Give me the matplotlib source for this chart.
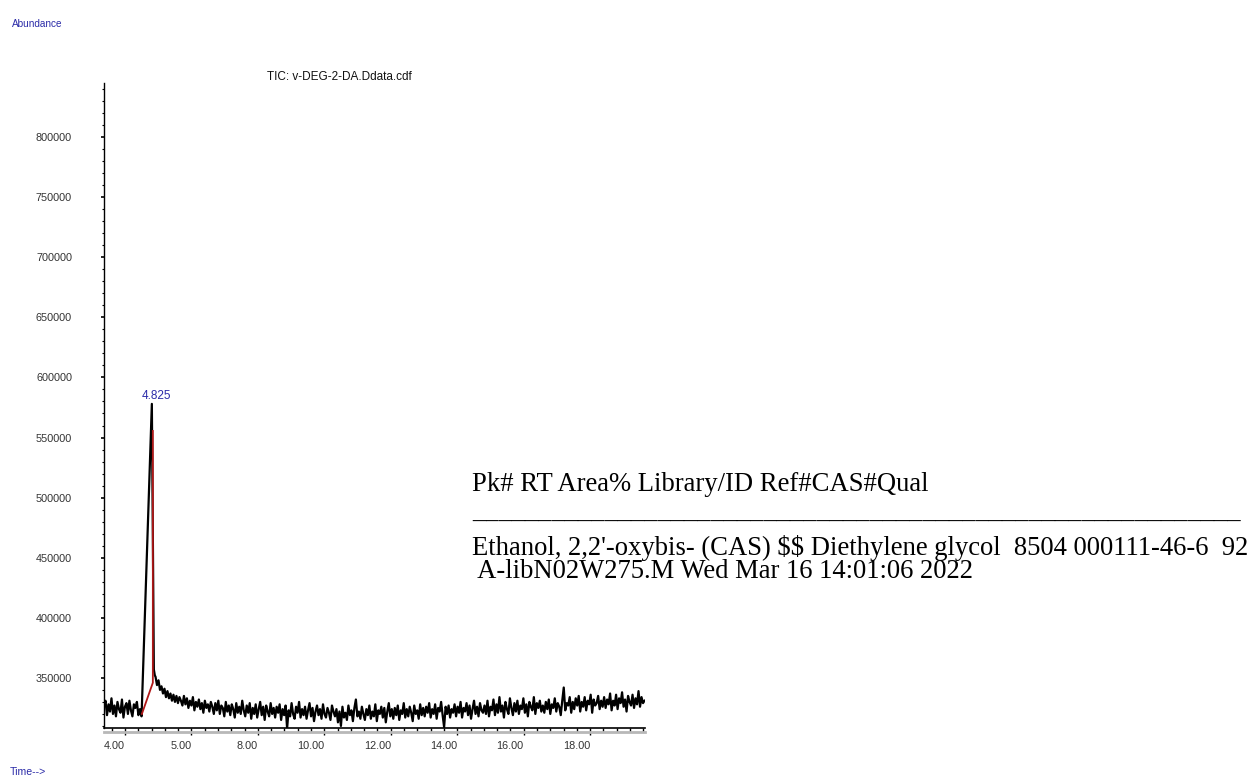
import numpy as np
import matplotlib.pyplot as plt
from matplotlib.ticker import MultipleLocator

# chromatogram, abundance in thousands
scan_step = 0.045

pre_start = 3.37
pre_peak_k = [326, 331, 319, 328, 322, 333, 320, 327, 318, 330, 324, 321, 332,
              317, 326, 329, 320, 331, 323, 318, 328, 325, 330, 319, 324]

peak_times = [4.50, 4.81, 4.87, 4.90]
peak_k = [318, 578, 357, 352]

post_start = 4.92
post_peak_k = [
    351, 344, 348, 340, 343, 337, 341, 334, 339, 333, 337, 331, 336, 330, 335, 329, 334, 331, 327, 335,
    328, 333, 325, 331, 327, 334, 323, 330, 326, 332, 324, 329, 321, 331, 325, 328, 322, 330, 326, 320,
    329, 323, 331, 320, 327, 325, 318, 330, 322, 327, 319, 328, 324, 317, 329, 321, 326, 320, 331, 323,
    318, 327, 321, 329, 316, 325, 320, 328, 317, 324, 330, 319, 326, 315, 327, 322, 318, 329, 320, 325,
    317, 326, 321, 328, 315, 324, 319, 327, 308, 323, 318, 329, 320, 316, 326, 321, 330, 317, 324, 319,
    326, 316, 323, 329, 318, 325, 314, 322, 327, 319, 324, 316, 328, 320, 317, 325, 321, 315, 327, 322,
    318, 324, 313, 322, 310, 326, 317, 321, 315, 327, 319, 323, 314, 325, 332, 318, 322, 316, 326, 320,
    315, 324, 319, 327, 316, 322, 318, 328, 314, 323, 320, 326, 317, 325, 313, 322, 329, 318, 324, 316,
    325, 319, 327, 315, 323, 320, 329, 317, 324, 318, 326, 321, 314, 327, 320, 323, 316, 328, 319, 325,
    318, 326, 321, 329, 317, 324, 320, 328, 316, 325, 322, 330, 319, 309, 326, 320, 327, 317, 324, 321,
    328, 318, 326, 321, 330, 317, 325, 322, 329, 319, 327, 316, 324, 331, 320, 326, 318, 329, 323, 321,
    327, 320, 331, 318, 326, 323, 332, 319, 328, 321, 334, 322, 327, 317, 330, 324, 320, 333, 325, 319,
    329, 322, 331, 320, 327, 324, 333, 321, 328, 318, 330, 326, 323, 334, 320, 329, 325, 331, 322, 327,
    321, 330, 324, 332, 320, 328, 325, 333, 322, 329, 326, 319, 331, 342, 323, 329, 327, 334, 321, 330,
    324, 333, 327, 335, 322, 330, 326, 334, 323, 331, 328, 336, 321, 332, 327, 329, 335, 324, 331, 326,
    334, 325, 332, 328, 337, 323, 331, 327, 336, 324, 333, 329, 338, 326, 332, 322, 335, 330, 327, 336,
    325, 333, 328, 339, 326, 334, 329, 331,
]

# integration baseline / drop line of the peak
integ_times = [4.51, 4.84, 4.84]
integ_k = [320, 346, 555.5]

peak_label = "4.825"
x_ticks = [4, 6, 8, 10, 12, 14, 16, 18]
x_tick_labels = ["4.00", "5.00", "8.00", "10.00", "12.00", "14.00", "16.00", "18.00"]
y_ticks = [350000, 400000, 450000, 500000, 550000, 600000, 650000, 700000, 750000, 800000]

pre_t = pre_start + scan_step * np.arange(len(pre_peak_k))
post_t = post_start + scan_step * np.arange(len(post_peak_k))
times = np.concatenate([pre_t, peak_times, post_t])
abundance = np.concatenate([pre_peak_k, peak_k, post_peak_k]) * 1000.0

sans = ['Liberation Sans', 'DejaVu Sans']
blue = '#2b2ba8'

fig = plt.figure(figsize=(12.56, 7.83), dpi=100)
ax = fig.add_axes([104 / 1256, 55 / 783, 541 / 1256, 645 / 783])

ax.plot(times, abundance, color='black', lw=1.6)
ax.plot(integ_times, np.array(integ_k) * 1000.0, color='#b01818', lw=1.3)
ax.annotate(peak_label, (times[len(pre_peak_k) + 1], abundance[len(pre_peak_k) + 1]),
            xytext=(3, 1), textcoords='offset points', ha='center', va='bottom',
            color=blue, fontsize=8.5, family=sans)

ax.set_xlim(3.37, 19.65)
ax.set_ylim(308300, 845000)

for side in ['top', 'right']:
    ax.spines[side].set_visible(False)
ax.spines['left'].set_linewidth(1.0)
ax.spines['bottom'].set_linewidth(1.2)
# light grey rule under the time axis
ax.plot([0, 1], [-0.006, -0.006], transform=ax.transAxes, color='#b8b8b8',
        lw=2.0, clip_on=False)

ax.set_xticks(x_ticks)
ax.set_xticklabels(x_tick_labels, ha='right', family=sans, fontsize=7.8, color='#333333')
ax.xaxis.set_minor_locator(MultipleLocator(0.4))
ax.tick_params(axis='x', which='major', length=5, width=1, pad=4.5)
ax.tick_params(axis='x', which='minor', length=3, width=1)

ax.set_yticks(y_ticks)
ax.set_yticklabels([str(v) for v in y_ticks], family=sans, fontsize=7.8, color='#333333')
ax.yaxis.set_minor_locator(MultipleLocator(10000))
ax.tick_params(axis='y', which='major', length=2.5, width=1.2, pad=20.5)
ax.tick_params(axis='y', which='minor', length=1.5, width=0.8)

fig.text(12 / 1256, 1 - 24 / 783, "Abundance", color=blue, fontsize=7.2,
         family=sans, va='center')
fig.text(10 / 1256, 1 - 772 / 783, "Time-->", color=blue, fontsize=7.6,
         family=sans, va='center')
fig.text(339 / 1256, 1 - 77 / 783, "TIC: v-DEG-2-DA.Ddata.cdf", color='#111111',
         fontsize=8.5, family=sans, ha='center', va='center')

serif = ['Liberation Serif', 'DejaVu Serif']
tx = 472 / 1256
fig.text(tx, 1 - 491 / 783, "Pk# RT Area% Library/ID Ref#CAS#Qual",
         fontsize=19.2, family=serif, va='baseline')
fig.text(tx, 1 - 519 / 783, "_" * 58, fontsize=19.2, family=serif, va='baseline')
fig.text(tx, 1 - 555 / 783,
         "Ethanol, 2,2'-oxybis- (CAS) $$ Diethylene glycol  8504 000111-46-6  92",
         fontsize=19.2, family=serif, va='baseline', parse_math=False)
fig.text(tx, 1 - 578 / 783, " A-libN02W275.M Wed Mar 16 14:01:06 2022",
         fontsize=19.2, family=serif, va='baseline')

fig.savefig('out.png', dpi=100)
